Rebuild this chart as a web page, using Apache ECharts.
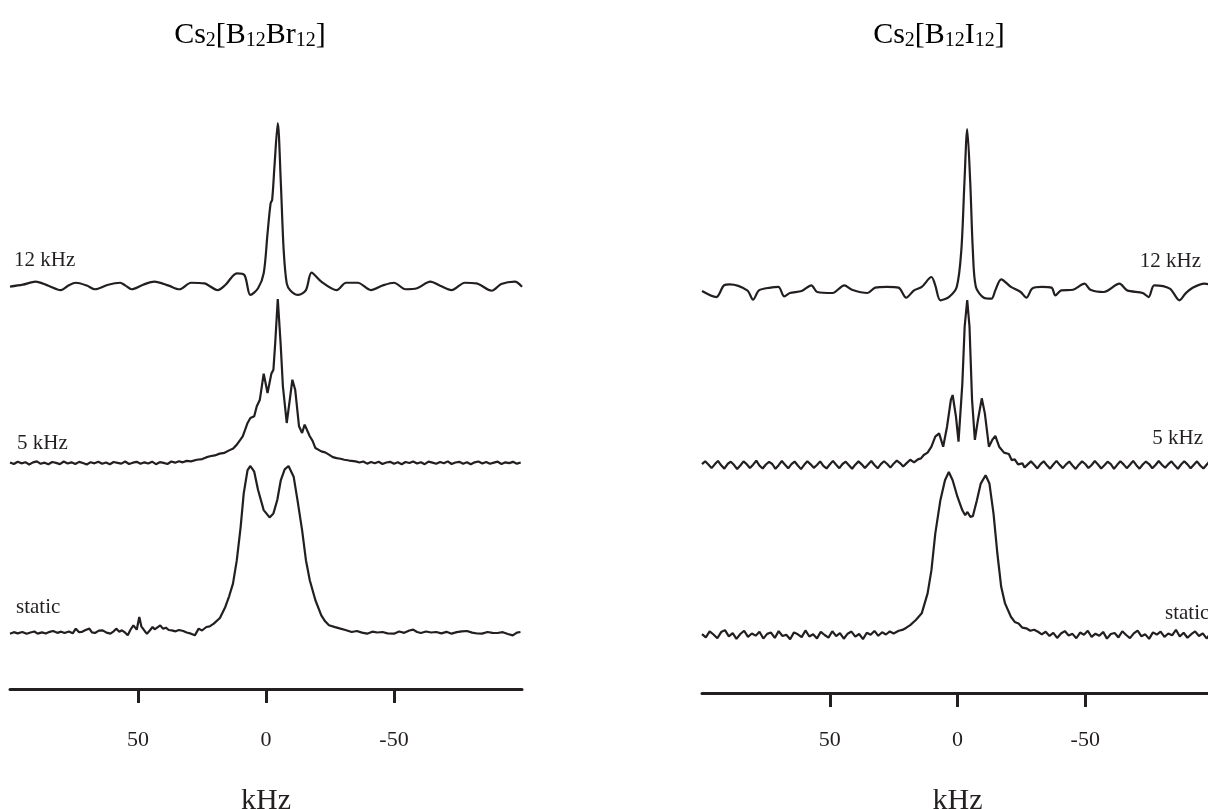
<!DOCTYPE html>
<html><head><meta charset="utf-8">
<script src="https://cdn.jsdelivr.net/npm/echarts@6/dist/echarts.min.js"></script>
<style>html,body{margin:0;padding:0;background:#fff}#c{width:1208px;height:809px}</style>
</head><body><div id="c"></div>
<script>
// ---------- data (x in kHz, y = relative intensity, 100 = tallest point of each trace) ----------
const xTicks = [50, 0, -50];
const axisName = 'kHz';
const traceLabels = ['12 kHz', '5 kHz', 'static'];

// Cs2[B12Br12]
const L12 = [[100,-0.4],[95,0.8],[90,2.7],[85,0.2],[80.2,-2.5],[77,0.5],[74.3,2.0],[70,0.3],[66.8,-2.0],[62,0.6],[57,2.0],[55,0.4],[52.5,-2.0],[48,0.8],[43.6,2.7],[38,0.2],[33.8,-2.0],[29.3,2.0],[24.1,1.6],[18.9,-2.5],[15.9,0.6],[11.4,7.8],[8.4,6.7],[6.1,-5.5],[3.1,-1.4],[0.9,7.8],[-0.6,32.3],[-1.8,50.7],[-2.4,52.8],[-3.3,73.2],[-4.6,100],[-5.8,63.0],[-6.9,22.1],[-8.1,1.6],[-9.6,-2.9],[-12.6,-5.5],[-15.6,-2.5],[-17.8,8.2],[-21.6,2.7],[-27.6,-2.5],[-31.3,2.0],[-35.8,2.0],[-41.0,-2.5],[-45.5,0.3],[-50.0,2.0],[-54.5,-2.0],[-59.0,-1.4],[-64.2,2.7],[-68,0.2],[-72.5,-2.5],[-77.7,2.0],[-82.2,1.6],[-88.2,-2.9],[-91.9,1.2],[-97.2,2.7],[-100,-0.4]];

const L5 = [[100,0.3],[98.5,-0.6],[97,0.8],[95.5,-0.2],[94,0.5],[92.5,-0.9],[91,0.4],[89.5,1.0],[88,-0.5],[86.5,0.2],[85,-0.8],[83.5,0.6],[82,0.1],[80.5,-0.7],[79,0.9],[77.5,-0.3],[76,0.4],[74.5,-0.6],[73,0.7],[71.5,0.0],[70,-0.9],[68.5,0.5],[67,-0.2],[65.5,0.8],[64,-0.5],[62.5,0.3],[61,-0.8],[59.5,0.6],[58,0.1],[56.5,-0.4],[55,0.9],[53.5,-0.6],[52,0.2],[50.5,0.7],[49,-0.5],[47.5,0.4],[46,-0.3],[44.5,0.8],[43,-0.7],[41.5,0.5],[40,0.1],[38.5,-0.6],[37,0.9],[35.5,0.2],[34,1.1],[32.5,0.4],[31,1.3],[29.3,1.0],[27,2.0],[24.9,2.4],[23.4,3.4],[21.9,4.1],[20,4.6],[18.1,5.7],[16.2,6.2],[14.4,7.7],[12.8,8.9],[11.4,11.2],[10.2,13.8],[9.1,16.3],[8.1,20.5],[7.2,24.4],[6.1,27.4],[4.6,28.5],[3.6,34.6],[2.4,38.6],[0.9,54.5],[-0.6,42.7],[-2.1,54.5],[-2.9,56.9],[-3.6,73.2],[-4.6,100],[-5.7,73.2],[-6.6,46.8],[-8.1,24.4],[-9.3,38.6],[-10.3,50.8],[-11.4,44.7],[-12.9,22.4],[-14.1,18.3],[-15.1,23.4],[-17.1,16.3],[-18.2,13.5],[-19.3,9.1],[-21.6,7.1],[-23.1,6.5],[-24.6,5.1],[-26.1,3.6],[-27.6,3.0],[-29.1,2.6],[-30.6,2.0],[-32.5,1.5],[-35.0,1.0],[-36.5,0.3],[-38,0.9],[-39.5,-0.4],[-41,0.6],[-42.5,-0.2],[-44,0.8],[-45.5,-0.6],[-47,0.3],[-48.5,0.7],[-50,-0.5],[-51.5,0.4],[-53,-0.8],[-54.5,0.6],[-56,0.0],[-57.5,0.9],[-59,-0.3],[-60.5,0.5],[-62,-0.7],[-63.5,0.8],[-65,0.2],[-66.5,-0.5],[-68,0.6],[-69.5,-0.2],[-71,1.0],[-72.5,-0.6],[-74,0.3],[-75.5,0.7],[-77,-0.4],[-78.5,0.5],[-80,-0.8],[-81.5,0.4],[-83,0.9],[-84.5,-0.3],[-86,0.6],[-87.5,-0.5],[-89,0.2],[-90.5,0.8],[-92,-0.6],[-93.5,0.4],[-95,-0.1],[-96.5,0.7],[-98,-0.4],[-99.5,0.3]];

const LS = [[100,-0.4],[98.5,0.5],[97,-0.2],[95.2,0.6],[93.5,-0.5],[92,0.3],[90.5,0.9],[89.2,-0.4],[87.5,0.4],[86,-0.3],[84.5,0.7],[83.2,1.2],[81.5,0.1],[80,0.8],[78.7,0.0],[77,0.9],[75.5,-0.2],[74.3,2.6],[73,0.5],[72,0.6],[70.5,1.8],[69,2.6],[68,0.4],[66.8,0.0],[65.3,1.4],[63.8,1.6],[62.3,0.2],[60.8,-0.4],[59.5,1.0],[58.5,2.6],[57.3,0.8],[56.3,1.6],[55,0.2],[54,-1.4],[53,1.8],[51.8,4.6],[50.5,2.0],[49.5,9.6],[48.7,4.0],[48,3.6],[47.2,0.8],[46.5,-0.4],[45.4,1.5],[44.3,3.6],[43.5,2.2],[42.8,1.6],[41.3,4.6],[40.2,2.5],[39.1,3.2],[38,1.8],[36.8,1.6],[35.3,1.0],[34,1.8],[32.3,1.2],[31,0.3],[29.3,-0.4],[27.8,-1.4],[26.3,2.6],[25,1.5],[23.3,3.6],[22,4.0],[20.4,5.6],[18,9.0],[15.9,15.6],[14.4,22.0],[12.9,29.6],[11.4,43.6],[9.9,63.6],[8.7,83.6],[7.2,97.6],[6.1,100],[4.6,96.6],[3.1,85.6],[0.9,73.6],[-1.4,69.2],[-2.9,71.6],[-4.4,79.6],[-5.8,91.6],[-7.3,98.0],[-8.8,100],[-10.8,93.6],[-12.3,79.6],[-14.1,61.6],[-15.6,43.6],[-17.1,31.6],[-19.3,19.6],[-21.6,10.6],[-23.1,7.0],[-24.6,4.6],[-27,3.5],[-29.1,2.6],[-31,1.8],[-33.5,0.6],[-35.5,1.2],[-37.5,0.2],[-39.5,-0.4],[-41.5,0.8],[-43.5,0.3],[-45.5,0.6],[-47.5,-0.2],[-50,-0.4],[-52,0.9],[-54,0.1],[-56,1.5],[-57.5,2.0],[-59,0.6],[-60.5,0.0],[-62.5,0.9],[-64.5,0.3],[-66.5,0.6],[-68.5,-0.2],[-70.5,0.7],[-72.5,-0.4],[-74.5,0.5],[-76.5,1.0],[-78.5,1.2],[-80.5,0.2],[-82.5,-0.3],[-84.4,-0.4],[-86.5,0.6],[-88.5,0.1],[-90.4,0.0],[-92.5,0.5],[-94.5,-0.6],[-96.4,-1.4],[-98,0.2],[-99.4,0.6]];

// Cs2[B12I12]
const R12 = [[100,0.6],[94.4,-3.1],[91.4,4.1],[89.1,4.7],[82.3,1.0],[80,-4.7],[77.7,1.0],[73.2,2.7],[70.1,3.1],[67.8,-2.7],[65.6,-0.6],[61,0.6],[57.2,4.1],[54.9,0],[48.9,-0.6],[44.3,4.1],[41.3,1.4],[35.2,-0.6],[32.2,2.7],[27.6,3.1],[23.1,2.7],[20.1,-3.5],[17,1.0],[14,3.1],[10.2,9.2],[8.7,4.1],[6.7,-5.1],[3.4,-3.1],[0.3,3.1],[-1.5,25.7],[-2.7,66.7],[-3.8,100],[-5.0,66.7],[-6.0,25.7],[-7.2,3.1],[-10.3,-3.5],[-13.3,-4.1],[-14.8,1.0],[-17.1,7.8],[-20.9,3.1],[-24.7,0],[-27,-3.5],[-29.2,2.1],[-33,3.1],[-36.8,2.7],[-38.3,-2.1],[-40.6,1.0],[-45.2,1.4],[-49.7,5.1],[-52,1.4],[-57.3,0],[-63.4,5.1],[-66.4,1.0],[-72.5,-0.6],[-74.8,-3.1],[-77,4.1],[-83.1,2.1],[-86.9,-5.1],[-89.2,-1.0],[-92.2,2.7],[-96.7,5.1],[-100,4.0]];

const R5 = [[100,0.5],[98.75,2.3],[97.5,0.3],[96.25,-1.9],[95,0.4],[93.75,2.5],[92.5,-0.2],[91.25,-2.2],[90,0.6],[88.75,2.0],[87.5,0.1],[86.25,-2.4],[85,-0.3],[83.75,2.2],[82.5,0.5],[81.25,-1.8],[80,0.2],[78.75,2.6],[77.5,-0.4],[76.25,-2.1],[75,0.3],[73.75,1.9],[72.5,0.6],[71.25,-2.3],[70,-0.1],[68.75,2.4],[67.5,0.2],[66.25,-2.0],[65,0.5],[63.75,2.1],[62.5,-0.3],[61.25,-2.5],[60,0.1],[58.75,2.3],[57.5,0.4],[56.25,-1.7],[55,0.0],[53.75,2.2],[52.5,-0.5],[51.25,-2.1],[50,0.3],[48.75,2.5],[47.5,0.2],[46.25,-1.9],[45,0.6],[43.75,2.0],[42.5,-0.1],[41.25,-2.3],[40,0.2],[38.75,2.2],[37.5,0.4],[36.25,-1.8],[35,0.3],[33.75,2.4],[32.5,0.0],[31.25,-2.0],[30,0.5],[28.75,2.3],[27.5,0.6],[26.25,-1.6],[25,0.8],[23.75,2.7],[22.5,1.2],[21.25,-0.9],[20,1.0],[18.5,3.2],[17,1.6],[15.5,3.4],[14.3,4.0],[13.2,6.1],[11.7,7.5],[10.2,11.1],[8.7,17.2],[7.2,19.2],[5.6,11.1],[4.1,23.2],[2.6,39.4],[1.9,42.4],[0.6,29.3],[-0.4,14.1],[-1.9,49.5],[-2.8,83.8],[-3.8,100],[-4.7,83.8],[-5.7,39.4],[-6.8,15.2],[-8.0,27.3],[-9.5,40.4],[-10.7,31.3],[-12.3,11.1],[-13.6,15.2],[-14.8,17.6],[-16.3,11.1],[-18.2,7.5],[-20.1,6.7],[-21.2,3.0],[-22.4,3.4],[-23.7,0.4],[-25.4,1.0],[-26.25,-1.5],[-27.5,0.4],[-28.75,2.2],[-30,0.2],[-31.25,-2.1],[-32.5,0.5],[-33.75,2.3],[-35,-0.2],[-36.25,-2.2],[-37.5,0.3],[-38.75,2.5],[-40,0.1],[-41.25,-1.9],[-42.5,0.4],[-43.75,2.1],[-45,-0.3],[-46.25,-2.4],[-47.5,0.2],[-48.75,2.2],[-50,0.6],[-51.25,-1.8],[-52.5,0.0],[-53.75,2.4],[-55,0.3],[-56.25,-2.1],[-57.5,-0.2],[-58.75,2.0],[-60,0.5],[-61.25,-2.3],[-62.5,0.1],[-63.75,2.3],[-65,0.4],[-66.25,-1.9],[-67.5,0.2],[-68.75,2.5],[-70,-0.1],[-71.25,-2.2],[-72.5,0.3],[-73.75,2.1],[-75,0.6],[-76.25,-2.0],[-77.5,0.0],[-78.75,2.4],[-80,0.2],[-81.25,-1.7],[-82.5,0.5],[-83.75,2.2],[-85,-0.2],[-86.25,-2.3],[-87.5,0.3],[-88.75,2.3],[-90,0.4],[-91.25,-2.0],[-92.5,0.1],[-93.75,2.2],[-95,-0.3],[-96.25,-2.1],[-97.5,0.2],[-98.75,2.4],[-100,0.4]];

const RS = [[100,0.5],[98.5,-1.5],[97,2.2],[95.5,0.3],[94,-2.0],[92.5,1.8],[91,3.0],[89.5,-0.8],[88,1.2],[86.5,-2.4],[85,0.6],[83.5,2.6],[82,-1.1],[80.5,0.9],[79,-0.4],[77.5,2.0],[76,-2.2],[74.5,0.7],[73,1.5],[71.5,-1.8],[70,2.4],[68.5,-0.6],[67,0.2],[65.5,-2.6],[64,1.6],[62.5,0.4],[61,-1.3],[59.5,2.8],[58,-0.9],[56.5,0.5],[55,-2.1],[53.5,1.9],[52,0.0],[50.5,-1.6],[49,2.3],[47.5,-0.7],[46,1.1],[44.5,-2.3],[43,0.8],[41.5,2.1],[40,-1.0],[38.5,0.6],[37,-2.5],[35.5,1.4],[34,0.1],[32.5,2.5],[31,-0.5],[29.5,1.7],[28,0.3],[26.5,2.2],[25,0.9],[23,2.6],[21.6,3.1],[20,4.5],[18.5,6.1],[16.3,9.2],[14,13.3],[11.7,25.5],[10.2,39.8],[8.7,62.2],[6.7,82.7],[4.9,94.9],[3.4,100],[1.9,94.9],[0.0,84.7],[-1.9,76.5],[-3.0,73.5],[-3.9,75.5],[-5.0,72.5],[-6.0,72.9],[-7.6,82.7],[-9.1,92.9],[-11.0,98.0],[-12.5,92.9],[-14.1,74.5],[-15.6,50.0],[-17.1,29.6],[-18.6,19.4],[-20.9,11.2],[-22.4,8.0],[-23.9,7.1],[-25.4,4.5],[-26.9,4.1],[-28.5,2.6],[-30,3.2],[-31.5,2.0],[-33,0.4],[-34.5,2.0],[-36,-0.6],[-37.5,1.3],[-39,-1.8],[-40.5,0.9],[-42,2.4],[-43.5,-0.3],[-45,0.7],[-46.5,-2.0],[-48,1.5],[-49.5,0.2],[-51,2.6],[-52.5,-1.2],[-54,0.8],[-55.5,-0.5],[-57,1.9],[-58.5,-2.2],[-60,0.6],[-61.5,1.2],[-63,-1.5],[-64.5,2.3],[-66,0.0],[-67.5,-1.9],[-69,1.0],[-70.5,2.7],[-72,-0.8],[-73.5,0.4],[-75,-2.4],[-76.5,1.6],[-78,0.3],[-79.5,2.1],[-81,-1.1],[-82.5,0.9],[-84,-0.2],[-85.5,3.2],[-87,-0.9],[-88.5,1.4],[-90,-1.7],[-91.5,0.5],[-93,2.2],[-94.5,-0.6],[-96,1.0],[-97.5,-2.1],[-99,0.7],[-100,0.2]];

// ---------- layout ----------
const INK = '#231f20';
const SERIF = '"Liberation Serif", "Times New Roman", serif';
const panels = [
  { left: 10, width: 512, axisY: 689, labelMargin: 40, nameGap: 97, traces: [[L12, 123, 286, 0.3], [L5, 299, 463, 0], [LS, 466, 633, 0]] },
  { left: 702, width: 511, axisY: 693, labelMargin: 36, nameGap: 93, traces: [[R12, 129, 292, 0.3], [R5, 300, 465, 0], [RS, 472, 635, 0]] }
];

const grid = [], xAxis = [], yAxis = [], series = [];
panels.forEach(p => {
  p.traces.forEach(t => {
    const [data, top, base, sm] = t;
    const idx = grid.length;
    grid.push({ left: p.left, width: p.width, top: top, height: (base - top) * 1.1, outerBoundsMode: 'none', containLabel: false });
    xAxis.push({ gridIndex: idx, type: 'value', min: -100, max: 100, inverse: true, show: false });
    yAxis.push({ gridIndex: idx, type: 'value', min: -10, max: 100, show: false });
    series.push({ type: 'line', xAxisIndex: idx, yAxisIndex: idx, data: data, showSymbol: false, smooth: sm,
      clip: false, lineStyle: { color: INK, width: 2.2 }, itemStyle: { color: INK }, silent: true });
  });
});
panels.forEach(p => {
  const idx = grid.length;
  grid.push({ left: p.left, width: p.width, top: p.axisY - 80, height: 80, outerBoundsMode: 'none', containLabel: false });
  xAxis.push({ gridIndex: idx, type: 'value', min: -100, max: 100, interval: 50, inverse: true,
    axisLine: { show: true, lineStyle: { color: INK, width: 3 } },
    axisTick: { show: true, customValues: xTicks, length: 14, lineStyle: { color: INK, width: 3 } },
    axisLabel: { customValues: xTicks, color: INK, fontFamily: SERIF, fontSize: 22, margin: p.labelMargin },
    splitLine: { show: false },
    name: axisName, nameLocation: 'middle', nameGap: p.nameGap,
    nameTextStyle: { color: INK, fontFamily: SERIF, fontSize: 30 } });
  yAxis.push({ gridIndex: idx, type: 'value', show: false });
});

const rich = {
  a: { fontFamily: SERIF, fontSize: 30, color: INK, lineHeight: 34 },
  s: { fontFamily: SERIF, fontSize: 20, color: INK, lineHeight: 20, padding: [12, 0, 0, 0] }
};
function txt(text, x, y, align, size) {
  return { type: 'text', x: x, y: y, silent: true,
    style: { text: text, fill: INK, fontFamily: SERIF, fontSize: size, align: align, textAlign: align,
      verticalAlign: 'middle', textVerticalAlign: 'middle' } };
}
const graphic = [
  { type: 'text', x: 250, y: 35, silent: true, style: { text: '{a|Cs}{s|2}{a|[B}{s|12}{a|Br}{s|12}{a|]}', rich: rich,
      align: 'center', textAlign: 'center', verticalAlign: 'middle', textVerticalAlign: 'middle' } },
  { type: 'text', x: 939, y: 35, silent: true, style: { text: '{a|Cs}{s|2}{a|[B}{s|12}{a|I}{s|12}{a|]}', rich: rich,
      align: 'center', textAlign: 'center', verticalAlign: 'middle', textVerticalAlign: 'middle' } },
  txt(traceLabels[0], 14, 260, 'left', 21),
  txt(traceLabels[1], 17, 443, 'left', 21),
  txt(traceLabels[2], 16, 607, 'left', 21),
  txt(traceLabels[0], 1201, 261, 'right', 21),
  txt(traceLabels[1], 1203, 438, 'right', 21),
  txt(traceLabels[2], 1165, 613, 'left', 21)
];

const chart = echarts.init(document.getElementById('c'), null, { renderer: 'canvas' });
chart.setOption({ animation: false, backgroundColor: '#fff', grid, xAxis, yAxis, series, graphic });
</script></body></html>
